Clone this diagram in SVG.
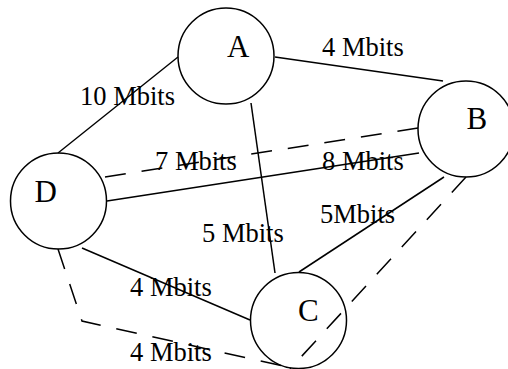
<svg xmlns="http://www.w3.org/2000/svg" width="508" height="369" viewBox="0 0 508 369">
<style>
  .node circle { fill: #fff; stroke: #000; stroke-width: 1.5; }
  .nlabel { font-family: "Liberation Serif", "Times New Roman", serif; font-size: 31px; fill: #000; }
  .elabel { font-family: "Liberation Serif", "Times New Roman", serif; font-size: 26.5px; fill: #000; }
  .edge { fill: none; stroke: #000; stroke-width: 1.5; }
  .dash { stroke-dasharray: 21 16; }
</style>
<rect width="508" height="369" fill="#fff"/>
<g id="nodes-bg">
  <g id="node-A" class="node"><circle cx="226" cy="56" r="48"/></g>
  <g id="node-B" class="node"><circle cx="466" cy="129" r="48"/></g>
  <g id="node-C" class="node"><circle cx="298.5" cy="320.5" r="48"/></g>
  <g id="node-D" class="node"><circle cx="58.5" cy="201" r="48"/></g>
</g>
<g id="connectors">
  <line class="edge" x1="178" y1="57" x2="58" y2="153"/>
  <line class="edge" x1="275" y1="57" x2="443" y2="81"/>
  <line class="edge" x1="251" y1="103" x2="275" y2="273"/>
  <line class="edge" x1="107" y1="201" x2="419" y2="153"/>
  <line class="edge dash" x1="105" y1="177" x2="418" y2="128"/>
  <line class="edge" x1="82" y1="248" x2="250" y2="320"/>
  <line class="edge" x1="444" y1="177" x2="299" y2="272"/>
  <line class="edge dash" x1="466" y1="177" x2="290" y2="369"/>
  <polyline class="edge dash" points="58,249 82,321 292,368"/>
</g>
<g id="labels">
  <text class="nlabel" x="227" y="57">A</text>
  <text class="nlabel" x="466.5" y="129">B</text>
  <text class="nlabel" x="298" y="321">C</text>
  <text class="nlabel" x="34.5" y="202">D</text>
  <text class="elabel" x="80" y="105">10 Mbits</text>
  <text class="elabel" x="322" y="56">4 Mbits</text>
  <text class="elabel" x="155" y="170">7 Mbits</text>
  <text class="elabel" x="322" y="170">8 Mbits</text>
  <text class="elabel" x="320" y="223">5Mbits</text>
  <text class="elabel" x="202" y="242">5 Mbits</text>
  <text class="elabel" x="130" y="296">4 Mbits</text>
  <text class="elabel" x="130" y="361">4 Mbits</text>
</g>
</svg>
